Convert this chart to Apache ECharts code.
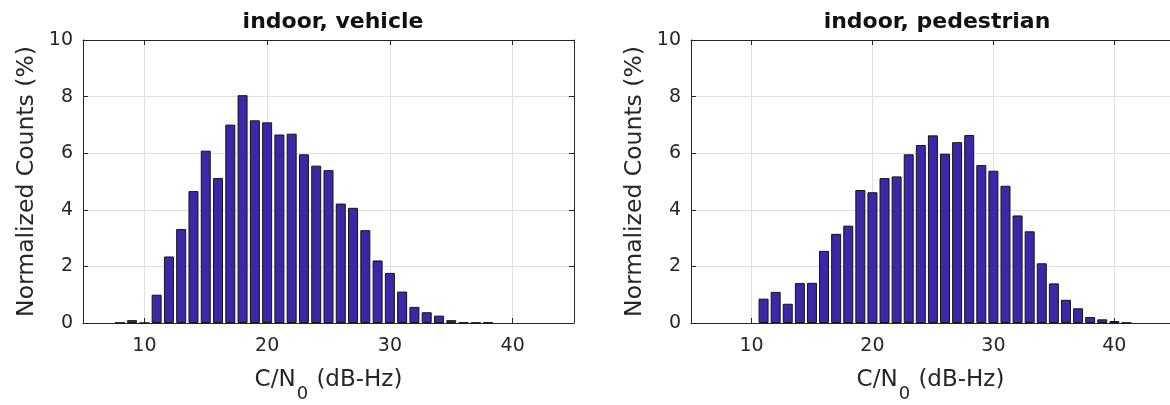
<!DOCTYPE html>
<html>
<head>
<meta charset="utf-8">
<script src="https://cdn.jsdelivr.net/npm/echarts@6/dist/echarts.min.js"></script>
<style>
html, body { margin: 0; padding: 0; background: #fff; }
#chart { width: 1170px; height: 405px; }
</style>
</head>
<body>
<div id="chart"></div>
<script>
// histogram bins (dB-Hz) and normalized counts (%)
var vehicleBins = [8, 9, 10, 11, 12, 13, 14, 15, 16, 17, 18, 19, 20, 21, 22, 23, 24, 25, 26, 27, 28, 29, 30, 31, 32, 33, 34, 35, 36, 37, 38];
var vehicleCounts = [0.01, 0.1, 0, 1.0, 2.35, 3.32, 4.66, 6.09, 5.12, 7.01, 8.05, 7.16, 7.09, 6.66, 6.69, 5.96, 5.56, 5.4, 4.22, 4.07, 3.28, 2.21, 1.77, 1.11, 0.57, 0.38, 0.26, 0.1, 0.02, 0.01, 0.02];
var pedestrianBins = [11, 12, 13, 14, 15, 16, 17, 18, 19, 20, 21, 22, 23, 24, 25, 26, 27, 28, 29, 30, 31, 32, 33, 34, 35, 36, 37, 38, 39, 40, 41];
var pedestrianCounts = [0.86, 1.1, 0.68, 1.41, 1.42, 2.55, 3.15, 3.44, 4.7, 4.62, 5.12, 5.18, 5.96, 6.29, 6.63, 5.98, 6.39, 6.64, 5.58, 5.38, 4.85, 3.8, 3.24, 2.11, 1.4, 0.82, 0.52, 0.21, 0.13, 0.07, 0.01];
var xTicks = [10, 20, 30, 40];
var titles = ['indoor, vehicle', 'indoor, pedestrian'];
// the right panel is cut by the page edge in the original, so its visible range stops short of 45
var xMax = [45, 44.6];

var FONT = 'DejaVu Sans';
var INK = '#262626';
var GRIDC = '#dfdfdf';

function pairs(xs, ys) {
    var out = [];
    for (var i = 0; i < xs.length; i++) { out.push([xs[i], ys[i]]); }
    return out;
}

var grids = [
    { left: 83, top: 40, width: 491, height: 283, outerBoundsMode: 'none' },
    { left: 691, top: 40, width: 479, height: 283, outerBoundsMode: 'none' }
];

var xAxes = [], yAxes = [], series = [], titleList = [];
var dataSets = [pairs(vehicleBins, vehicleCounts), pairs(pedestrianBins, pedestrianCounts)];

for (var g = 0; g < 2; g++) {
    // bottom x axis
    xAxes.push({
        gridIndex: g, type: 'value', min: 5, max: xMax[g], position: 'bottom',
        axisLine: { show: true, onZero: false, lineStyle: { color: INK, width: 1 } },
        axisTick: { show: true, inside: true, length: 5, customValues: xTicks, lineStyle: { color: INK } },
        axisLabel: { customValues: xTicks, margin: 14, fontSize: 19, color: INK, fontFamily: FONT },
        splitLine: { show: true, lineStyle: { color: GRIDC, width: 1 } },
        name: '{m|C/N}{s|0}{m| (dB-Hz)}',
        nameLocation: 'middle', nameGap: 46,
        nameTextStyle: {
            fontFamily: FONT, fontSize: 23, color: INK,
            rich: {
                m: { fontFamily: FONT, fontSize: 23, color: INK, verticalAlign: 'top', lineHeight: 26 },
                s: { fontFamily: FONT, fontSize: 18, color: INK, verticalAlign: 'top', lineHeight: 20, padding: [16, 1, 0, 1] }
            }
        }
    });
    // top x axis (box + ticks)
    xAxes.push({
        gridIndex: g, type: 'value', min: 5, max: xMax[g], position: 'top',
        axisLine: { show: true, onZero: false, lineStyle: { color: INK, width: 1 } },
        axisTick: { show: true, inside: true, length: 5, customValues: xTicks, lineStyle: { color: INK } },
        axisLabel: { show: false },
        splitLine: { show: false }
    });
    yAxes.push({
        gridIndex: g, type: 'value', min: 0, max: 10, interval: 2, position: 'left',
        axisLine: { show: true, onZero: false, lineStyle: { color: INK, width: 1 } },
        axisTick: { show: true, inside: true, length: 5, lineStyle: { color: INK } },
        axisLabel: { margin: 10, fontSize: 19, color: INK, fontFamily: FONT },
        splitLine: { show: true, lineStyle: { color: GRIDC, width: 1 } },
        name: 'Normalized Counts (%)',
        nameLocation: 'middle', nameGap: 44, nameRotate: 90,
        nameTextStyle: { fontFamily: FONT, fontSize: 23.5, color: INK }
    });
    // right box edge; on the cut-off panel only the tick stubs show
    yAxes.push({
        gridIndex: g, type: 'value', min: 0, max: 10, interval: 2, position: 'right',
        axisLine: { show: g === 0, onZero: false, lineStyle: { color: INK, width: 1 } },
        axisTick: { show: true, inside: g === 0, length: g === 0 ? 5 : 1, lineStyle: { color: INK } },
        axisLabel: { show: false },
        splitLine: { show: false }
    });
    series.push({
        type: 'bar',
        xAxisIndex: g * 2, yAxisIndex: g * 2,
        barWidth: 10,
        itemStyle: { color: '#3b28a8', borderColor: '#141414', borderWidth: 1 },
        data: dataSets[g]
    });
    titleList.push({
        text: titles[g],
        left: g === 0 ? 328 : 932,
        textAlign: 'center',
        top: 6,
        textStyle: { fontFamily: FONT, fontSize: 22, fontWeight: 'bold', color: '#111' }
    });
}

var chart = echarts.init(document.getElementById('chart'));
chart.setOption({
    animation: false,
    backgroundColor: '#fff',
    title: titleList,
    grid: grids,
    xAxis: xAxes,
    yAxis: yAxes,
    series: series
});
</script>
</body>
</html>
